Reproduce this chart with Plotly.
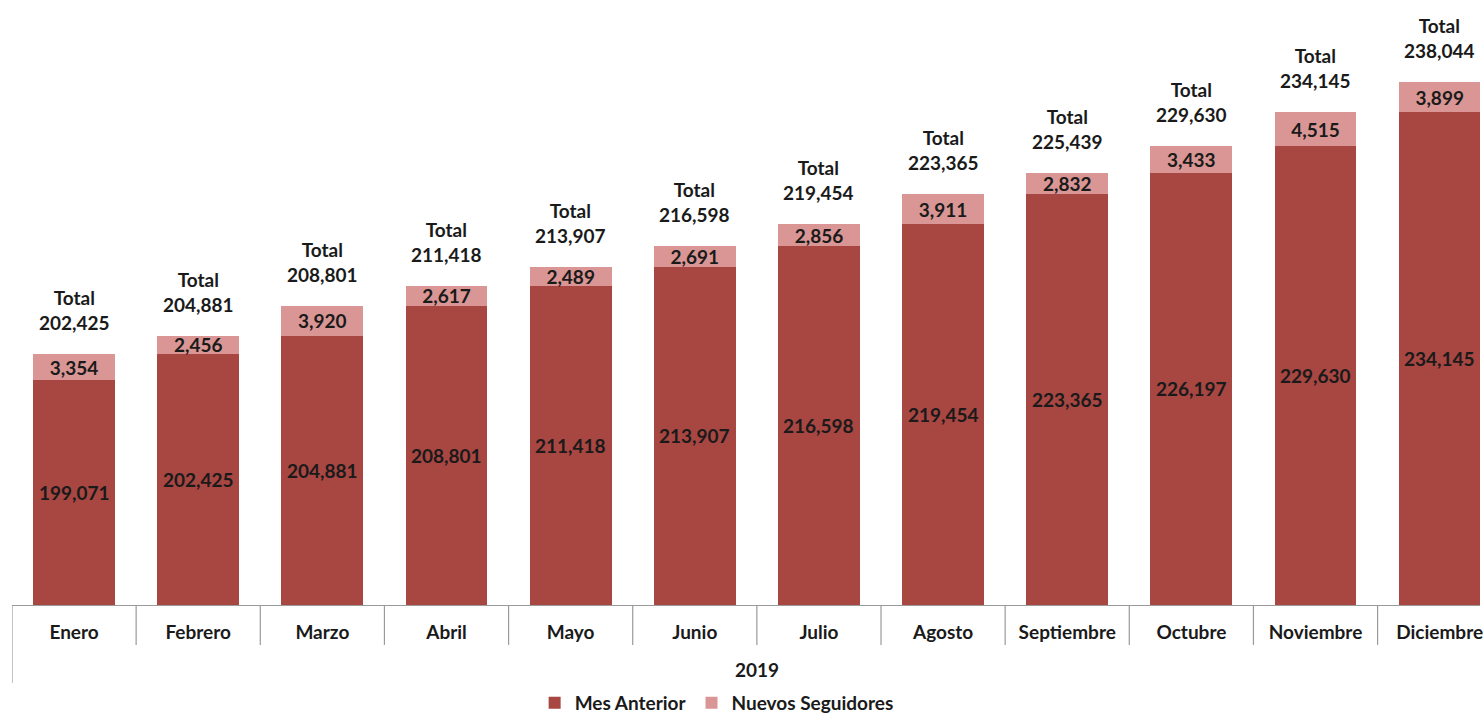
import plotly.graph_objects as go

meses = ["Enero", "Febrero", "Marzo", "Abril", "Mayo", "Junio", "Julio",
         "Agosto", "Septiembre", "Octubre", "Noviembre", "Diciembre"]
mes_anterior = [199071, 202425, 204881, 208801, 211418, 213907, 216598,
                219454, 223365, 226197, 229630, 234145]
nuevos = [3354, 2456, 3920, 2617, 2489, 2691, 2856, 3911, 2832, 3433, 4515, 3899]
totales = [202425, 204881, 208801, 211418, 213907, 216598, 219454,
           223365, 225439, 229630, 234145, 238044]
anio = "2019"

dark = "#A84642"
light = "#D99694"
txt = "#1a1a1a"
grid = "#9a9a9a"
font_fam = "Lato, Carlito, Calibri, sans-serif"
fs = 19
y_min, y_max = 169625, 248800

fig = go.Figure()

fig.add_trace(go.Bar(
    x=meses, y=mes_anterior, name="Mes Anterior",
    marker=dict(color=dark, line=dict(width=0)),
    hovertemplate="%{x}: %{y:,}<extra></extra>",
))
fig.add_trace(go.Bar(
    x=meses, y=nuevos, name="Nuevos Seguidores",
    marker=dict(color=light, line=dict(width=0)),
    text=[f"{v:,}" for v in nuevos],
    textposition="inside", insidetextanchor="middle",
    textfont=dict(size=fs, color=txt, family=font_fam, weight="bold"),
))

# la barra oscura empieza fuera del eje, asi que la etiqueta va al centro de la parte visible
for m, a in zip(meses, mes_anterior):
    fig.add_annotation(
        x=m, y=(y_min + a) / 2, text=f"{a:,}", showarrow=False,
        yanchor="middle",
        font=dict(size=fs, color=txt, family=font_fam, weight="bold"),
    )

# etiquetas de total encima de cada barra
for m, a, n, t in zip(meses, mes_anterior, nuevos, totales):
    fig.add_annotation(
        x=m, y=a + n, text=f"Total<br>{t:,}", showarrow=False,
        yanchor="bottom", yshift=18,
        font=dict(size=fs, color=txt, family=font_fam, weight="bold"),
    )

# divisiones de la tabla de categorias
shapes = []
for k in range(len(meses) + 1):
    y1 = -0.129 if k == 0 else -0.066
    shapes.append(dict(type="line", xref="x", yref="paper",
                       x0=k - 0.5, x1=k - 0.5, y0=0, y1=y1,
                       line=dict(color=grid, width=1.2)))

fig.add_annotation(
    x=5.5, xref="x", y=-0.107, yref="paper", text=anio, showarrow=False,
    yanchor="middle",
    font=dict(size=fs, color=txt, family=font_fam, weight="bold"),
)

fig.update_layout(
    width=1483, height=713,
    barmode="stack", bargap=0.34,
    plot_bgcolor="white", paper_bgcolor="white",
    margin=dict(l=12, r=0, t=0, b=108),
    shapes=shapes,
    uniformtext=dict(minsize=fs, mode="show"),
    showlegend=True,
    legend=dict(orientation="h", x=0.48, xanchor="center",
                yref="container", y=0.014, yanchor="middle",
                traceorder="normal",
                font=dict(size=fs, color=txt, family=font_fam, weight="bold"),
                itemwidth=30),
    xaxis=dict(range=[-0.5, 11.325], showline=True, linecolor=grid, linewidth=1.2,
               showgrid=False, ticks="", ticklabelstandoff=10,
               tickfont=dict(size=fs, color=txt, family=font_fam, weight="bold")),
    yaxis=dict(range=[y_min, y_max], visible=False, showgrid=False),
)

fig.write_html("out.html", config={"displayModeBar": False},
               post_script="document.body.style.margin='0';document.body.style.overflow='hidden';")
